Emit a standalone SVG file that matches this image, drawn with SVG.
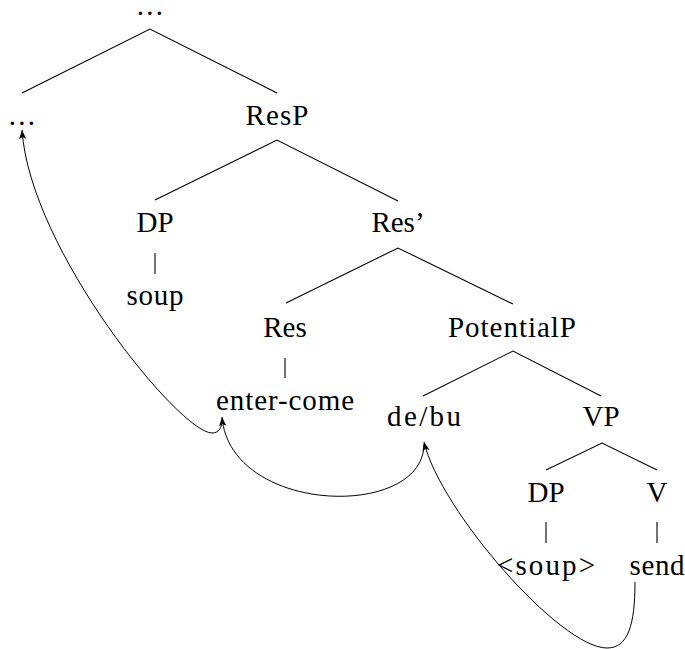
<svg xmlns="http://www.w3.org/2000/svg" width="685" height="649" viewBox="0 0 685 649">
<style>
text{font-family:"Liberation Serif","Times New Roman",serif;font-size:29px;fill:#000;text-anchor:middle}
.dots{letter-spacing:2.3px}
.edge{stroke:#000;stroke-width:1.1;fill:none}
.mv{stroke:#000;stroke-width:1;fill:none;marker-end:url(#ah)}
</style>
<defs>
<marker id="ah" markerUnits="userSpaceOnUse" orient="auto" refX="0" refY="0" markerWidth="12" markerHeight="10" overflow="visible">
<path d="M0,0 L-9,-3.6 L-7,0 L-9,3.6 Z" fill="#000"/>
</marker>
</defs>
<g id="edges">
<path class="edge" d="M22,93 L150,29 L277,93"/>
<path class="edge" d="M155,200 L277,140 L398,201"/>
<path class="edge" d="M286,303 L398,248 L513,304"/>
<path class="edge" d="M423,396 L513,351 L601,396"/>
<path class="edge" d="M546,470 L602,443 L657,470"/>
<path class="edge" d="M155,253 L155,274"/>
<path class="edge" d="M285,358 L285,378"/>
<path class="edge" d="M546,522 L546,543"/>
<path class="edge" d="M657,522 L657,543"/>
</g>
<g id="movement">
<path class="mv" d="M635,582 C635,625 628,648 607,648 C560,648 440,510 424,442"/>
<path class="mv" d="M424,444 C424,520 230,515 222,417"/>
<path class="mv" d="M222,419 C222,428 219,433 212,433 C180,433 30,250 22,130"/>
</g>
<g id="n-top"><text class="dots" x="151" y="15">...</text></g>
<g id="n-left"><text class="dots" x="23" y="125">...</text></g>
<g id="n-resp"><text x="277" y="125" textLength="63" lengthAdjust="spacing">ResP</text></g>
<g id="n-dp1"><text x="155" y="232">DP</text></g>
<g id="n-soup"><text x="155" y="305" textLength="57" lengthAdjust="spacing">soup</text></g>
<g id="n-resbar"><text x="398" y="232">Res’</text></g>
<g id="n-res"><text x="285" y="337">Res</text></g>
<g id="n-entercome"><text x="285" y="410" textLength="138" lengthAdjust="spacing">enter-come</text></g>
<g id="n-potentialp"><text x="512" y="337" textLength="128" lengthAdjust="spacing">PotentialP</text></g>
<g id="n-debu"><text x="424" y="426" textLength="74" lengthAdjust="spacing">de/bu</text></g>
<g id="n-vp"><text x="601" y="426">VP</text></g>
<g id="n-dp2"><text x="546" y="502">DP</text></g>
<g id="n-v"><text x="657" y="502">V</text></g>
<g id="n-soup2"><text x="546" y="575" textLength="98" lengthAdjust="spacing">&lt;soup&gt;</text></g>
<g id="n-send"><text x="657" y="575" textLength="55" lengthAdjust="spacing">send</text></g>
</svg>
